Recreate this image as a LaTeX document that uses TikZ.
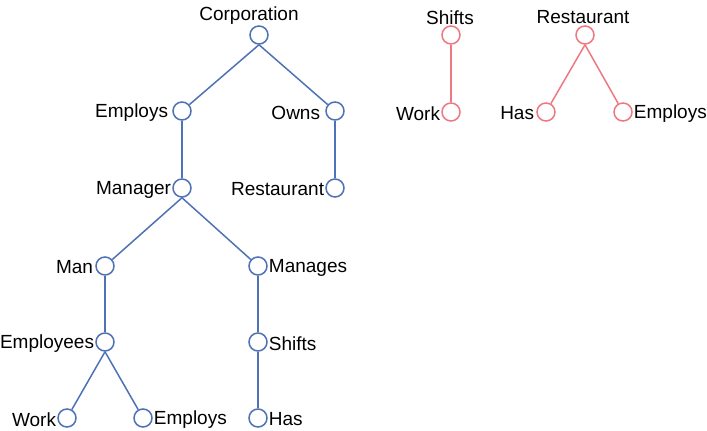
\documentclass[tikz,border=0pt]{standalone}
\usepackage{fontspec}
\setmainfont{Liberation Sans}
\definecolor{tblue}{RGB}{79,114,182}
\definecolor{tred}{RGB}{238,120,130}
\begin{document}
\begin{tikzpicture}[x=1pt,y=-1pt,
  nd/.style={circle,draw=#1,line width=1.5pt,minimum size=18pt,inner sep=0pt,fill=white},
  bn/.style={nd=tblue},
  rn/.style={nd=tred},
  lab/.style={font=\fontsize{19}{21}\selectfont,inner sep=1pt,text=black,yshift=-1.5pt},
  be/.style={draw=tblue,line width=1.5pt},
  re/.style={draw=tred,line width=1.5pt}]
\useasboundingbox (0,0) rectangle (707,431);
% blue tree
\node[bn] (corp) at (259,35) {};
\node[bn] (emp1) at (182,111) {};
\node[bn] (owns) at (335,111) {};
\node[bn] (mgr) at (182,188) {};
\node[bn] (rest) at (335,188) {};
\node[bn] (man) at (105,266) {};
\node[bn] (mgs) at (258,266) {};
\node[bn] (emps) at (105,342) {};
\node[bn] (shf) at (258,342) {};
\node[bn] (work) at (67,418) {};
\node[bn] (emp2) at (143,418) {};
\node[bn] (has) at (258,418) {};
\node[lab] (lcorp) at (249,14) {Corporation};
\node[lab,anchor=east] (lemp1) at ([xshift=-3pt]emp1.west) {Employs};
\node[lab,anchor=east] (lowns) at ([xshift=-4pt]owns.west) {Owns};
\node[lab,anchor=east] (lmgr) at ([xshift=0pt]mgr.west) {Manager};
\node[lab,anchor=east] (lrest) at ([xshift=0pt]rest.west) {Restaurant};
\node[lab,anchor=east] (lman) at ([xshift=-1pt]man.west) {Man};
\node[lab,anchor=west] (lmgs) at ([xshift=0pt]mgs.east) {Manages};
\node[lab,anchor=east] (lemps) at ([xshift=0pt]emps.west) {Employees};
\node[lab,anchor=west] (lshf) at ([xshift=0pt]shf.east) {Shifts};
\node[lab,anchor=east] (lwork) at ([xshift=0pt]work.west) {Work};
\node[lab,anchor=west] (lemp2) at ([xshift=0pt]emp2.east) {Employs};
\node[lab,anchor=west] (lhas) at ([xshift=0pt]has.east) {Has};
\path[be] (corp.south) -- (emp1);
\path[be] (corp.south) -- (owns);
\path[be] (emp1.south) -- (mgr);
\path[be] (owns.south) -- (rest);
\path[be] (mgr.south) -- (man);
\path[be] (mgr.south) -- (mgs);
\path[be] (man.south) -- (emps);
\path[be] (mgs.south) -- (shf);
\path[be] (emps.south) -- (work);
\path[be] (emps.south) -- (emp2);
\path[be] (shf.south) -- (has);
% red trees
\node[rn] (rshf) at (451,35) {};
\node[rn] (rwork) at (451,112) {};
\node[rn] (rrest) at (585,35) {};
\node[rn] (rhas) at (546,112) {};
\node[rn] (remp) at (623,112) {};
\node[lab] (lrshf) at (450,16) {Shifts};
\node[lab] (lrrest) at (583,16) {Restaurant};
\node[lab,anchor=east] (lrwork) at ([xshift=0pt]rwork.west) {Work};
\node[lab,anchor=east] (lrhas) at ([xshift=-1pt]rhas.west) {Has};
\node[lab,anchor=west] (lremp) at ([xshift=0pt]remp.east) {Employs};
\path[re] (rshf.south) -- (rwork);
\path[re] (rrest.south) -- (rhas);
\path[re] (rrest.south) -- (remp);
\end{tikzpicture}
\end{document}
